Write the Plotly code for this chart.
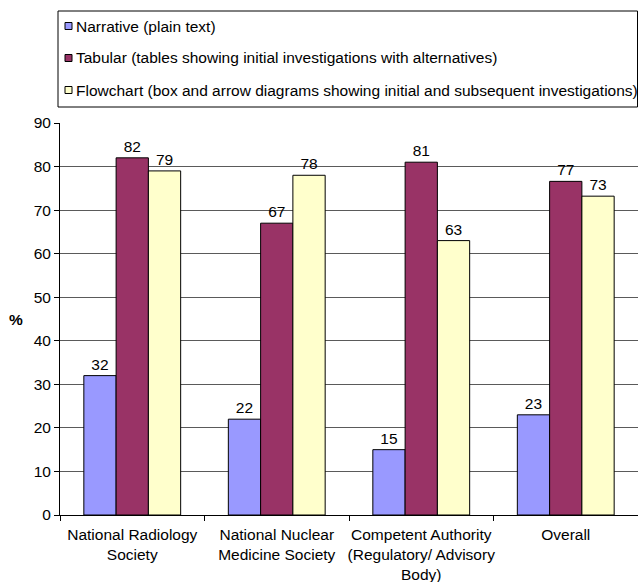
import plotly.graph_objects as go

categories = [
    "National Radiology<br>Society",
    "National Nuclear<br>Medicine Society",
    "Competent Authority<br>(Regulatory/ Advisory<br>Body)",
    "Overall",
]
series_names = [
    "Narrative (plain text)",
    "Tabular (tables showing initial investigations with alternatives)",
    "Flowchart (box and arrow diagrams showing initial and subsequent investigations)",
]
narrative = [32, 22, 15, 23]
tabular = [82, 67, 81, 76.6]
flowchart = [79, 78, 63, 73.2]
y_ticks = [0, 10, 20, 30, 40, 50, 60, 70, 80, 90]
y_title = "%"

colors = ["#9999FF", "#993366", "#FFFFCC"]
FONT = "Liberation Sans, Arial, Helvetica, sans-serif"
FS = 15.5

W, H = 638, 582
ML, MR, MT, MB = 60, 0, 123, 67
PW, PH = W - ML - MR, H - MT - MB


def px2x(px):
    return (px - ML) / PW


def px2y(py):
    return (H - MB - py) / PH


fig = go.Figure()
for i, (name, vals) in enumerate(zip(series_names, [narrative, tabular, flowchart])):
    fig.add_trace(go.Bar(
        x=categories, y=vals, name=name,
        marker=dict(color=colors[i], line=dict(color="#000000", width=1)),
        texttemplate="%{y:.0f}", textposition="outside",
        textfont=dict(size=FS, color="#000000", family=FONT),
        cliponaxis=False, showlegend=False,
    ))

# legend box (drawn as a framed key)
shapes = [dict(type="rect", xref="paper", yref="paper",
               x0=px2x(58), x1=px2x(637.5), y0=px2y(107), y1=px2y(11),
               line=dict(color="#000000", width=1), fillcolor="rgba(0,0,0,0)",
               layer="above")]
annotations = []
row_y = [26, 58, 90]
for i, name in enumerate(series_names):
    cy = row_y[i]
    shapes.append(dict(type="rect", xref="paper", yref="paper",
                       x0=px2x(65), x1=px2x(72), y0=px2y(cy + 3.5), y1=px2y(cy - 3.5),
                       line=dict(color="#000000", width=1), fillcolor=colors[i]))
    annotations.append(dict(text=name, xref="paper", yref="paper",
                            x=px2x(73.5), y=px2y(cy), xanchor="left", yanchor="middle",
                            showarrow=False, font=dict(size=FS, family=FONT, color="#000000")))

# horizontal y-axis title
annotations.append(dict(text="<b>" + y_title + "</b>", xref="paper", yref="paper",
                        x=px2x(16), y=0.5, xanchor="center", yanchor="middle",
                        showarrow=False, font=dict(size=FS, family=FONT, color="#000000")))

fig.update_layout(
    width=W, height=H,
    margin=dict(l=ML, r=MR, t=MT, b=MB),
    paper_bgcolor="white", plot_bgcolor="white",
    font=dict(family=FONT, size=FS, color="#000000"),
    barmode="group", bargap=0.33, bargroupgap=0,
    showlegend=False,
    xaxis=dict(showline=True, linecolor="#000000", linewidth=1,
               ticks="outside", ticklen=5, tickcolor="#000000",
               tickson="boundaries", tickangle=0, ticklabelstandoff=5,
               tickfont=dict(size=FS, family=FONT)),
    yaxis=dict(range=[0, 90], tickvals=y_ticks, showline=True,
               linecolor="#000000", linewidth=1, ticks="outside", ticklen=5,
               tickcolor="#000000", showgrid=True, gridcolor="#5a5a5a",
               gridwidth=1, zeroline=False,
               tickfont=dict(size=FS, family=FONT)),
    shapes=shapes,
    annotations=annotations,
)
fig.write_html("out.html", config={"displayModeBar": False},
               post_script="document.body.style.margin='0px';")
